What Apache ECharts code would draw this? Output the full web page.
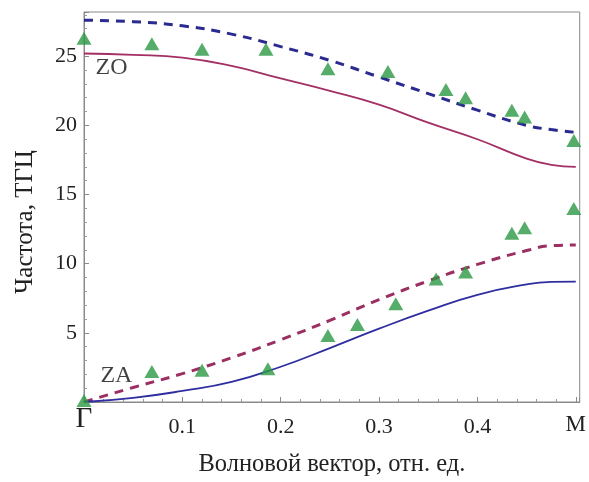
<!DOCTYPE html>
<html>
<head>
<meta charset="utf-8">
<script src="https://cdn.jsdelivr.net/npm/echarts@6/dist/echarts.min.js"></script>
<style>
  html, body { margin: 0; padding: 0; background: #fff; }
  #main { width: 589px; height: 482px; }
</style>
</head>
<body>
<div id="main"></div>
<script>
// волновой вектор (отн. ед.)
var kx = [0, 0.05, 0.1, 0.15, 0.2, 0.25, 0.3, 0.35, 0.4, 0.45, 0.475, 0.5];

// ZO ветви
var zoDashed = [27.6, 27.5, 27.2, 26.6, 25.7, 24.7, 23.5, 22.3, 21.1, 20.0, 19.7, 19.5];
var zoSolid  = [25.2, 25.1, 24.9, 24.3, 23.4, 22.5, 21.5, 20.2, 19.0, 17.6, 17.15, 17.0];

// ZA ветви
var zaDashed = [0, 1.05, 2.05, 3.2, 4.5, 5.9, 7.4, 8.75, 9.95, 10.95, 11.3, 11.35];
var zaSolid  = [0, 0.3, 0.8, 1.45, 2.55, 3.9, 5.3, 6.6, 7.75, 8.5, 8.68, 8.7];

// эксперимент (треугольники)
var expX = [0, 0.069, 0.12, 0.185, 0.248, 0.309, 0.368, 0.388, 0.435, 0.448, 0.498,
            0.498, 0.448, 0.435, 0.388, 0.358, 0.317, 0.278, 0.248, 0.187, 0.12, 0.069, 0];
var expY = [26.3, 25.9, 25.5, 25.5, 24.1, 23.9, 22.6, 22.0, 21.1, 20.6, 18.9,
            14.0, 12.6, 12.2, 9.4, 8.9, 7.1, 5.6, 4.8, 2.4, 2.3, 2.2, 0.1];

var branchNames = ['ZO', 'ZA'];
var branchPos = [[0.028, 24.2], [0.033, 1.9]];

function pairs(xs, ys) {
  var out = [];
  for (var i = 0; i < xs.length; i++) out.push([xs[i], ys[i]]);
  return out;
}

var font = 'Liberation Serif';
var myChart = echarts.init(document.getElementById('main'));

var option = {
  animation: false,
  grid: {
    left: 84, right: 8, top: 12, bottom: 75,
    show: true, borderColor: '#8a8a8a', borderWidth: 1
  },
  xAxis: {
    type: 'value',
    min: 0, max: 0.504, interval: 0.1,
    name: 'Волновой вектор, отн. ед.',
    nameLocation: 'middle', nameGap: 50,
    nameTextStyle: { fontFamily: font, fontSize: 24.5, color: '#222' },
    axisLine: { lineStyle: { color: '#8a8a8a' } },
    axisTick: { inside: true, length: 5, lineStyle: { color: '#8a8a8a' } },
    minorTick: { show: true, splitNumber: 5, length: 3, lineStyle: { color: '#9a9a9a' } },
    splitLine: { show: false },
    axisLabel: {
      fontFamily: font, color: '#222', margin: 3,
      showMaxLabel: false,
      formatter: function (v) {
        if (v === 0) return '{g|Γ}';
        if (Math.abs(v - 0.5) < 1e-6) return '{m|M}';
        if (v > 0.5) return '';
        return '{n|' + v.toFixed(1) + '}';
      },
      rich: {
        g: { fontFamily: font, fontSize: 29, color: '#222', padding: [0, 0, 0, 0] },
        m: { fontFamily: font, fontSize: 23, color: '#222', padding: [8, 0, 0, 0] },
        n: { fontFamily: font, fontSize: 22, color: '#222', padding: [11, 0, 0, 0] }
      }
    }
  },
  yAxis: {
    type: 'value',
    min: 0, max: 28.2, interval: 5,
    name: 'Частота, ТГЦ',
    nameLocation: 'middle', nameGap: 46,
    nameTextStyle: { fontFamily: font, fontSize: 25, color: '#222', padding: [0, 30, 0, 0] },
    axisLine: { show: true, lineStyle: { color: '#8a8a8a' } },
    axisTick: { inside: true, length: 5, lineStyle: { color: '#8a8a8a' } },
    minorTick: { show: true, splitNumber: 5, length: 3, lineStyle: { color: '#9a9a9a' } },
    splitLine: { show: false },
    axisLabel: {
      fontFamily: font, fontSize: 22, color: '#222', margin: 7,
      showMaxLabel: false,
      formatter: function (v) { return (v === 0 || v > 28) ? '' : String(v); }
    }
  },
  series: [
    {
      name: 'ZO dashed', type: 'line', smooth: true, symbol: 'none',
      data: pairs(kx, zoDashed),
      lineStyle: { color: '#2a2a90', width: 3, type: [9, 7] }
    },
    {
      name: 'ZO solid', type: 'line', smooth: true, symbol: 'none',
      data: pairs(kx, zoSolid),
      lineStyle: { color: '#a32f64', width: 1.8 }
    },
    {
      name: 'ZA dashed', type: 'line', smooth: true, symbol: 'none',
      data: pairs(kx, zaDashed),
      lineStyle: { color: '#9c2f62', width: 3, type: [9, 7] }
    },
    {
      name: 'ZA solid', type: 'line', smooth: true, symbol: 'none',
      data: pairs(kx, zaSolid),
      lineStyle: { color: '#2e2ea0', width: 1.8 }
    },
    {
      name: 'exp', type: 'scatter', symbol: 'triangle', symbolSize: [15, 13],
      data: pairs(expX, expY),
      itemStyle: { color: '#2b9944' },
      z: 5
    },
    {
      name: 'labels', type: 'scatter', symbolSize: 0,
      data: branchPos.map(function (p, i) { return { name: branchNames[i], value: p }; }),
      label: {
        show: true, position: 'inside', formatter: '{b}',
        fontFamily: font, fontSize: 24, color: '#111'
      },
      silent: true
    }
  ]
};

myChart.setOption(option);
</script>
</body>
</html>
